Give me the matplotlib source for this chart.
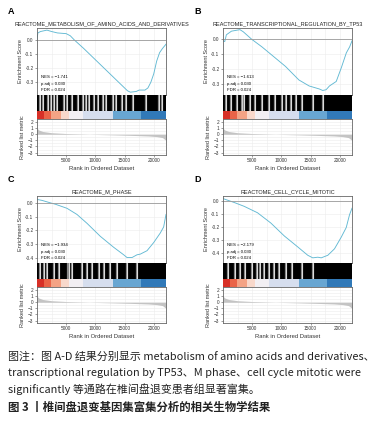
import numpy as np
import matplotlib
matplotlib.use("Agg")
import matplotlib.pyplot as plt

plt.rcParams['font.family'] = ['Liberation Sans', 'DejaVu Sans']

W, H = 377, 423

# ---- data ----
titles = ["REACTOME_METABOLISM_OF_AMINO_ACIDS_AND_DERIVATIVES",
          "REACTOME_TRANSCRIPTIONAL_REGULATION_BY_TP53",
          "REACTOME_M_PHASE",
          "REACTOME_CELL_CYCLE_MITOTIC"]
letters = ["A", "B", "C", "D"]
nes = ["-1.741", "-1.613", "-1.934", "-2.179"]
padj = ["0.030", "0.030", "0.030", "0.030"]
fdr = ["0.024", "0.024", "0.024", "0.024"]

es_rank_a = [0, 150, 600, 1700, 2500, 3500, 5000, 5700, 6400, 8000, 10000, 12000, 14000,
             15000, 15500, 16000, 17000, 17500, 18500, 19000, 19500, 20000, 20500, 21000, 21500, 22100]
es_a = [0.0, 0.05, 0.06, 0.07, 0.06, 0.05, 0.045, 0.03, 0.0, -0.06, -0.14, -0.22, -0.30,
        -0.34, -0.36, -0.37, -0.365, -0.355, -0.355, -0.34, -0.30, -0.24, -0.15, -0.09, -0.06, -0.03]

es_rank_b = [0, 300, 580, 1450, 2900, 3470, 4920, 6660, 10700, 13000, 14760, 16500, 17080,
             17660, 18240, 19400, 20260, 21130, 21700, 22100]
es_b = [-0.01, -0.015, 0.03, 0.054, 0.064, 0.05, 0.0, -0.05, -0.18, -0.27, -0.31, -0.33, -0.34,
        -0.335, -0.31, -0.28, -0.19, -0.09, -0.05, -0.01]

es_rank_c = [0, 850, 2280, 3140, 5140, 6850, 8570, 10850, 13130, 14850, 15420, 16280, 17130,
             17700, 18850, 20000, 21130, 21700, 22100]
es_c = [0.025, 0.018, 0.0, -0.01, -0.04, -0.085, -0.15, -0.245, -0.325, -0.38, -0.40, -0.40, -0.38,
        -0.375, -0.35, -0.29, -0.22, -0.176, -0.085]

es_rank_d = [0, 750, 1900, 3620, 5910, 8200, 10500, 12800, 14520, 15380, 16240, 16820, 17960,
             19100, 20250, 21110, 21680, 22100]
es_d = [0.02, 0.008, -0.01, -0.04, -0.09, -0.17, -0.27, -0.355, -0.42, -0.44, -0.435, -0.44, -0.42,
        -0.37, -0.28, -0.205, -0.105, -0.055]

es_ylims = [(-0.39, 0.085), (-0.37, 0.075), (-0.44, 0.05), (-0.48, 0.04)]
es_yticks = [[0.0, -0.1, -0.2, -0.3], [0.0, -0.1, -0.2, -0.3],
             [0.0, -0.1, -0.2, -0.3, -0.4], [0.0, -0.1, -0.2, -0.3, -0.4]]

# white gaps in the hit barcode (rank positions)
gaps_a = [510, 1080, 1830, 2400, 2970, 3370, 4680, 5200, 6000, 6970, 7820, 8400, 8970,
          9820, 10390, 11250, 11820, 12960, 13530, 14560, 15250, 16390, 18670, 20960, 21410]
gaps_b = [580, 1450, 2320, 3180, 3650, 4630, 5500, 6660, 7820, 8970, 10130, 10710,
          11580, 12450, 13600, 15340, 17080]
gaps_c = [570, 1140, 1710, 2860, 3710, 5300, 5550, 6000, 7710, 8570, 9420, 10560,
          11420, 12560, 13700, 15420, 17130]
gaps_d = [870, 2030, 2900, 3760, 4920, 5790, 6370, 6950, 7820, 8680, 9550, 10710,
          11870, 13600, 15340]

# ranked list metric (same dataset for all panels)
metric_rank = [0, 300, 1000, 2500, 5000, 8000, 10000, 13000, 16000, 19000, 20500, 21500, 22100]
metric_val = [1.0, 0.7, 0.45, 0.25, 0.12, 0.03, -0.03, -0.1, -0.18, -0.28, -0.38, -0.55, -1.0]

# colour strip
cbar_edges = [0, 1260, 2400, 4110, 5540, 7820, 12960, 17820, 22100]
cbar_colors = ['#d73027', '#ea6448', '#f4a385', '#f8d8cb', '#f2eff3', '#d6deee', '#68a6d2', '#3179b8']

caption = ["图注：图 A-D 结果分别显示 metabolism of amino acids and derivatives、",
           "transcriptional regulation by TP53、M phase、cell cycle mitotic were",
           "significantly 等通路在椎间盘退变患者组显著富集。"]
fig_title = "图 3 丨椎间盘退变基因集富集分析的相关生物学结果"

es_ranks = [es_rank_a, es_rank_b, es_rank_c, es_rank_d]
es_vals = [es_a, es_b, es_c, es_d]
gaps = [gaps_a, gaps_b, gaps_c, gaps_d]

XMAX = 22100

fig = plt.figure(figsize=(W / 100, H / 100), dpi=100)


def px_axes(x0, y0, x1, y1):
    return fig.add_axes([x0 / W, 1 - y1 / H, (x1 - x0) / W, (y1 - y0) / H])


def style_box(ax):
    for s in ax.spines.values():
        s.set_color('#666666')
        s.set_linewidth(0.6)
    ax.tick_params(length=1.5, width=0.4, color='#555555', labelsize=3.4, pad=1, labelcolor='#333333')


lefts = [37, 223, 37, 223]
tops = [28, 28, 196, 196]

for i in range(4):
    x0 = lefts[i]
    x1 = x0 + 129
    t = tops[i]

    # running enrichment score
    ax = px_axes(x0, t, x1, t + 67)
    ax.plot(es_ranks[i], es_vals[i], color='#62b9d3', lw=0.65)
    ax.axhline(0, color='#9a9a9a', lw=0.6)
    ax.set_xlim(0, XMAX)
    ax.set_ylim(*es_ylims[i])
    ax.set_yticks(es_yticks[i])
    ax.set_yticklabels(["%.1f" % v if v != 0 else "0.0" for v in es_yticks[i]])
    ax.set_xticks([5000, 10000, 15000, 20000])
    ax.set_xticks([2500, 7500, 12500, 17500], minor=True)
    ax.tick_params(axis='x', which='both', length=0, labelbottom=False)
    ax.grid(True, which='both', color='#ececec', lw=0.4)
    ax.set_axisbelow(True)
    style_box(ax)
    ax.tick_params(axis='x', which='both', length=0)
    ax.set_ylabel("Enrichment Score", fontsize=4, labelpad=2, color='#333333')
    ax.set_title(titles[i], fontsize=4, pad=2, color='#222222')
    ax.text(0.03, 0.25, "NES = " + nes[i].replace('-', '\u2212'), transform=ax.transAxes, fontsize=3.1)
    ax.text(0.03, 0.155, "p.adj = " + padj[i], transform=ax.transAxes, fontsize=3.1)
    ax.text(0.03, 0.06, "FDR = " + fdr[i], transform=ax.transAxes, fontsize=3.1)
    fig.text((x0 - 29) / W, 1 - (t - 16) / H, letters[i], fontsize=6.5, fontweight='bold',
             va='center', ha='left')

    # hit barcode
    axb = px_axes(x0, t + 67, x1, t + 83)
    axb.set_facecolor('black')
    for g in gaps[i]:
        axb.axvline(g, color='#8a8a8a', lw=1.6)
        axb.axvline(g, color='white', lw=0.5)
    axb.set_xlim(0, XMAX)
    axb.set_xticks([])
    axb.set_yticks([])
    for s in axb.spines.values():
        s.set_visible(False)

    # colour strip
    axc = px_axes(x0, t + 83, x1, t + 91)
    for k in range(len(cbar_colors)):
        axc.axvspan(cbar_edges[k], cbar_edges[k + 1], color=cbar_colors[k], lw=0)
    axc.set_xlim(0, XMAX)
    axc.set_xticks([])
    axc.set_yticks([])
    for s in axc.spines.values():
        s.set_visible(False)

    # ranked list metric
    axr = px_axes(x0, t + 91, x1, t + 127)
    axr.fill_between(metric_rank, 0, metric_val, color='#c4c4c4', lw=0)
    axr.set_xlim(0, XMAX)
    axr.set_ylim(-3.4, 2.5)
    axr.set_yticks([2, 1, 0, -1, -2, -3])
    axr.set_xticks([5000, 10000, 15000, 20000])
    axr.set_xticks([2500, 7500, 12500, 17500], minor=True)
    axr.set_yticks([2.5, 1.5, 0.5, -0.5, -1.5, -2.5], minor=True)
    axr.grid(True, which='both', color='#ececec', lw=0.4)
    axr.set_axisbelow(True)
    style_box(axr)
    axr.tick_params(which='minor', length=0)
    axr.set_ylabel("Ranked list metric", fontsize=4, labelpad=2, color='#333333')
    axr.set_xlabel("Rank in Ordered Dataset", fontsize=4.2, labelpad=2, color='#333333')

cap_font = ['Noto Sans CJK SC', 'DejaVu Sans']
for j, line in enumerate(caption):
    fig.text(8 / W, 1 - (357 + 16 * j) / H, line, fontsize=7.9, family=cap_font,
             va='center', ha='left', color='#222222')
fig.text(8 / W, 1 - 407 / H, fig_title, fontsize=8.2, family=cap_font, fontweight='bold',
         va='center', ha='left', color='#222222')

fig.savefig("out.png", dpi=100)
